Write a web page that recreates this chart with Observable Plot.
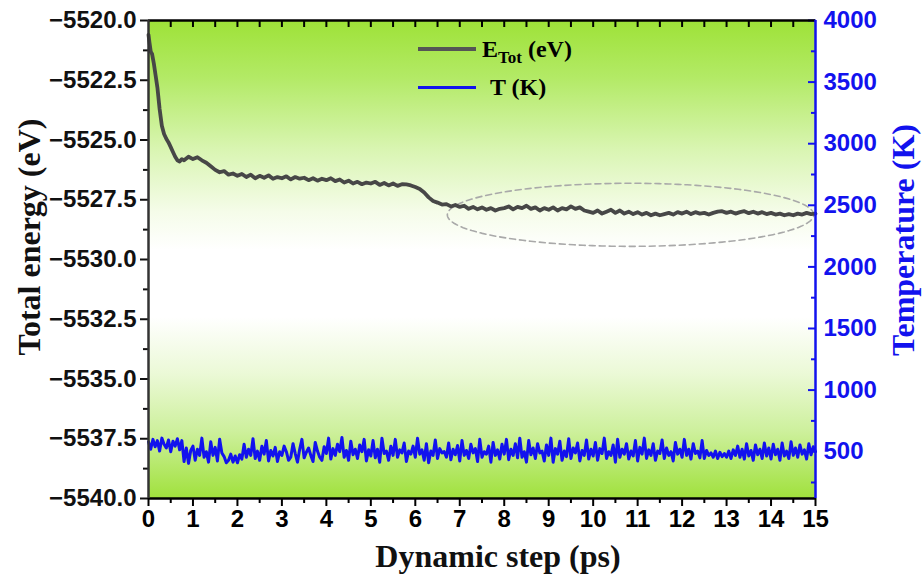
<!DOCTYPE html>
<html><head><meta charset="utf-8">
<script src="https://cdn.jsdelivr.net/npm/d3@7"></script>
<script src="https://cdn.jsdelivr.net/npm/@observablehq/plot@0.6"></script>
<style>
body{margin:0;background:#fff;}
#wrap{position:relative;width:922px;height:576px;overflow:hidden;}
.leg{position:absolute;font-family:"Liberation Serif","Times New Roman",serif;font-weight:bold;font-size:24px;line-height:24px;color:#000;white-space:nowrap;}
.legline{position:absolute;height:3.5px;}
</style></head><body>
<div id="wrap"></div>
<script>
// ---- data ----
const xTicks = [0,1,2,3,4,5,6,7,8,9,10,11,12,13,14,15];
const energyTicks = [-5540,-5537.5,-5535,-5532.5,-5530,-5527.5,-5525,-5522.5,-5520];
const tempTicks = [500,1000,1500,2000,2500,3000,3500,4000];

// total energy (eV): initial relaxation, explicit times (ps)
const energyTimeStart = [0,0.02,0.05,0.08,0.12,0.16,0.2,0.25,0.3,0.35,0.4,0.45,0.5,0.55,0.6,0.65,0.7,0.75];
const energyValueStart = [-5520.6,-5520.9,-5521.3,-5521.4,-5521.8,-5522.3,-5522.8,-5523.7,-5524.4,-5524.75,-5524.95,-5525.1,-5525.3,-5525.5,-5525.7,-5525.85,-5525.9,-5525.8];
// total energy (eV) from 0.8 ps to 15.0 ps, every 0.1 ps
const energyValue = [
-5525.85,-5525.7,-5525.8,-5525.72,-5525.85,-5525.95,-5526.1,-5526.25,-5526.35,-5526.3,
-5526.45,-5526.4,-5526.5,-5526.42,-5526.55,-5526.45,-5526.6,-5526.5,-5526.58,-5526.48,
-5526.62,-5526.55,-5526.6,-5526.52,-5526.65,-5526.55,-5526.62,-5526.58,-5526.68,-5526.6,
-5526.7,-5526.62,-5526.68,-5526.6,-5526.72,-5526.65,-5526.78,-5526.7,-5526.82,-5526.75,
-5526.85,-5526.78,-5526.82,-5526.75,-5526.88,-5526.8,-5526.9,-5526.82,-5526.92,-5526.85,
-5526.86,-5526.9,-5526.97,-5527.05,-5527.2,-5527.4,-5527.55,-5527.62,-5527.7,-5527.68,
-5527.78,-5527.72,-5527.8,-5527.75,-5527.88,-5527.8,-5527.9,-5527.82,-5527.92,-5527.85,
-5527.95,-5527.88,-5527.85,-5527.78,-5527.9,-5527.8,-5527.85,-5527.75,-5527.88,-5527.82,
-5527.95,-5527.85,-5527.92,-5527.82,-5527.95,-5527.85,-5527.9,-5527.78,-5527.88,-5527.82,
-5527.95,-5528.0,-5528.05,-5527.95,-5528.08,-5528.0,-5527.92,-5528.05,-5527.95,-5528.08,
-5528.0,-5528.1,-5528.02,-5528.12,-5528.05,-5528.15,-5528.08,-5528.15,-5528.1,-5528.05,
-5528.12,-5528.02,-5528.08,-5528.0,-5528.1,-5528.02,-5528.08,-5528.05,-5528.12,-5528.05,
-5528.0,-5527.98,-5528.05,-5528.0,-5528.08,-5528.02,-5527.98,-5528.06,-5528.0,-5528.08,
-5528.02,-5528.1,-5528.05,-5528.12,-5528.08,-5528.15,-5528.1,-5528.15,-5528.08,-5528.12,
-5528.05,-5528.1,-5528.08
];
// temperature (K), every 0.05 ps from 0 to 15 ps
const temperatureK = [
580,520,600,540,590,505,610,560,530,595,500,585,545,605,515,590,420,530,405,510,
545,430,520,470,610,455,500,415,580,470,535,425,600,490,460,410,430,480,415,465,
410,475,440,560,455,520,470,605,445,505,430,545,480,590,425,510,465,535,420,500,
470,545,500,430,455,565,485,415,520,600,450,495,530,470,420,575,505,455,430,540,
485,610,440,525,470,560,500,615,455,510,430,585,475,520,445,555,500,600,425,515,
465,590,450,520,415,610,485,505,430,545,470,600,455,515,490,570,420,505,480,545,
455,610,480,515,430,565,410,505,470,595,445,525,490,500,455,570,435,520,475,550,
425,590,470,510,445,560,490,525,420,600,455,500,480,545,415,575,470,515,440,560,
480,600,435,520,470,565,450,610,455,500,415,590,475,530,445,565,490,505,425,555,
470,610,415,525,480,585,430,505,460,605,445,530,490,570,425,510,470,595,440,520,
465,575,430,525,485,610,445,500,470,555,415,600,455,520,480,565,440,505,465,590,
425,535,480,610,445,515,470,565,430,505,485,595,445,530,470,500,425,575,480,520,
455,600,470,520,440,565,485,505,450,590,445,510,470,490,455,505,445,495,460,485,
455,505,445,515,470,545,455,520,440,565,465,510,430,555,475,520,445,570,465,530,
440,560,475,520,430,570,465,505,445,580,470,530,455,555,480,515,440,565,475,540,500
];
// dashed highlight ellipse (centre and radii in data units)
const highlight = {cx: 10.84, cy: -5528.13, rx: 4.12, ry: 1.32};

// ---- derived ----
const eDomain = [-5540, -5520], tDomain = [120, 4000];
const toE = t => eDomain[0] + (t - tDomain[0]) * (eDomain[1] - eDomain[0]) / (tDomain[1] - tDomain[0]);
const fromE = e => tDomain[0] + (e - eDomain[0]) * (tDomain[1] - tDomain[0]) / (eDomain[1] - eDomain[0]);
const energyData = energyTimeStart.map((t, i) => ({t, e: energyValueStart[i]}))
  .concat(energyValue.map((e, i) => ({t: +(0.8 + i * 0.1).toFixed(2), e})));
const tempData = temperatureK.map((k, i) => ({t: +(i * 0.05).toFixed(2), k}));
const ring = d3.range(0, 361, 3).map(a => ({
  t: highlight.cx + highlight.rx * Math.cos(a * Math.PI / 180),
  e: highlight.cy + highlight.ry * Math.sin(a * Math.PI / 180)
}));
const xMinor = d3.range(0.5, 15, 1);
const xTop = d3.range(0.5, 15, 0.5);
const eMinor = energyTicks.slice(0, -1).map(v => v + 1.25);
const tMinor = [250,750,1250,1750,2250,2750,3250,3750].map(toE);

const sans = "Liberation Sans, Arial, sans-serif";
const serif = "Liberation Serif, Times New Roman, serif";
const blue = "#1212ee";
const M = {top: 20, right: 107, bottom: 78, left: 148};

const chart = Plot.plot({
  width: 922, height: 576,
  marginTop: M.top, marginRight: M.right, marginBottom: M.bottom, marginLeft: M.left,
  x: {domain: [0, 15]},
  y: {domain: eDomain},
  style: {background: "transparent", fontFamily: sans},
  marks: [
    Plot.frame({fill: "url(#bgGrad)", stroke: null}),
    Plot.line(ring, {x: "t", y: "e", stroke: "#a9a9a9", strokeWidth: 1.6, strokeDasharray: "6,4"}),
    Plot.line(tempData, {x: "t", y: d => toE(d.k), stroke: blue, strokeWidth: 3, strokeLinejoin: "round"}),
    Plot.line(energyData, {x: "t", y: "e", stroke: "#474747", strokeWidth: 3.8, strokeLinejoin: "round"}),
    // left axis
    Plot.axisY({ticks: energyTicks, tickSize: 8, tickPadding: 4, tickFormat: d3.format(".1f"),
      fontSize: 24, fontWeight: "bold", color: "#111", strokeWidth: 2, label: null}),
    Plot.axisY({ticks: eMinor, tickSize: 5, tickFormat: () => "", color: "#111", strokeWidth: 2, label: null}),
    // bottom axis
    Plot.axisX({ticks: xTicks, tickSize: 8, tickPadding: 3, tickFormat: d => String(d),
      fontSize: 24, fontWeight: "bold", color: "#000", strokeWidth: 2, label: null}),
    Plot.axisX({ticks: xMinor, tickSize: 5, tickFormat: () => "", color: "#000", strokeWidth: 2, label: null}),
    // top inward ticks
    Plot.axisX({anchor: "top", ticks: xTop, tickSize: -6, tickFormat: () => "", color: "#000", strokeWidth: 2, label: null}),
    // right temperature axis
    Plot.axisY({anchor: "right", ticks: tempTicks.map(toE), tickSize: -8, tickPadding: 16,
      tickFormat: e => String(Math.round(fromE(e))), fontSize: 24, fontWeight: "bold", color: blue, strokeWidth: 2, label: null}),
    Plot.axisY({anchor: "right", ticks: tMinor, tickSize: -5, tickFormat: () => "", color: blue, strokeWidth: 2, label: null}),
    // axis lines
    Plot.ruleY([eDomain[1]], {stroke: "#000", strokeWidth: 2.5}),
    Plot.ruleY([eDomain[0]], {stroke: "#000", strokeWidth: 2.5}),
    Plot.ruleX([0], {stroke: "#333", strokeWidth: 2.5}),
    Plot.ruleX([15], {stroke: blue, strokeWidth: 2.5})
  ]
});

const svg = d3.select(chart);
// vertical background gradient
const grad = svg.insert("defs", ":first-child").append("linearGradient")
  .attr("id", "bgGrad").attr("x1", 0).attr("y1", 0).attr("x2", 0).attr("y2", 1);
[[0, "#9ee238"], [0.12, "#b3ea66"], [0.27, "#d9f5b2"], [0.4, "#f5fce9"], [0.48, "#ffffff"],
 [0.62, "#ffffff"], [0.74, "#ebf9d6"], [0.86, "#cdf09c"], [1, "#a0e13c"]]
  .forEach(([o, c]) => grad.append("stop").attr("offset", o).attr("stop-color", c));

// axis titles
const titles = [
  {text: "Total energy (eV)", x: 29, y: 237, rotate: -90, fill: "#111"},
  {text: "Temperature (K)", x: 903, y: 240, rotate: -90, fill: blue},
  {text: "Dynamic step (ps)", x: 498, y: 556, rotate: 0, fill: "#111"}
];
titles.forEach(t => {
  svg.append("text")
    .attr("transform", `translate(${t.x},${t.y}) rotate(${t.rotate})`)
    .attr("text-anchor", "middle")
    .attr("dy", "0.35em")
    .attr("font-family", serif)
    .attr("font-weight", "bold")
    .attr("font-size", 32)
    .attr("fill", t.fill)
    .text(t.text);
});

const wrap = document.getElementById("wrap");
wrap.appendChild(chart);

// legend
const legend = [
  {html: 'E<span style="font-size:17px;position:relative;top:6px">Tot</span> (eV)', color: "#555", lineTop: 47, textTop: 37, textLeft: 482},
  {html: 'T (K)', color: blue, lineTop: 85.5, textTop: 75, textLeft: 490}
];
legend.forEach(l => {
  const ln = document.createElement("div");
  ln.className = "legline";
  ln.style.cssText = `left:418px;width:58px;top:${l.lineTop}px;background:${l.color};`;
  wrap.appendChild(ln);
  const tx = document.createElement("div");
  tx.className = "leg";
  tx.style.left = l.textLeft + "px";
  tx.style.top = l.textTop + "px";
  tx.innerHTML = l.html;
  wrap.appendChild(tx);
});
</script>
</body></html>
